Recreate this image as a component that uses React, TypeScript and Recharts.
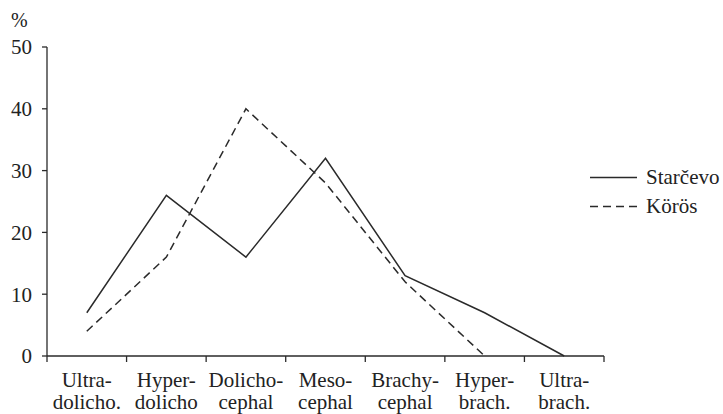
import React from "react";
import { LineChart, Line, XAxis, YAxis, Legend } from "recharts";

// category labels (two lines each)
const categoryTop = ["Ultra-", "Hyper-", "Dolicho-", "Meso-", "Brachy-", "Hyper-", "Ultra-"];
const categoryBottom = ["dolicho.", "dolicho", "cephal", "cephal", "cephal", "brach.", "brach."];

// percentages per group
const starcevo = [7, 26, 16, 32, 13, 7, 0];
const koros: (number | null)[] = [4, 16, 40, 28, 12, 0, null];

const seriesNames = ["Starčevo", "Körös"];
const yTicks = [0, 10, 20, 30, 40, 50];

const data = categoryTop.map((top, i) => ({
  name: `${top} ${categoryBottom[i]}`,
  starcevo: starcevo[i],
  koros: koros[i],
}));

const FONT = "Liberation Serif";
const INK = "#2a2a2a";

const CategoryTick = (props: any) => {
  const { x, y, payload, index } = props;
  const [l1, l2] = String(payload.value).split(" ");
  const off = payload.offset ?? 0;
  return (
    <g>
      <line x1={x - off} x2={x - off} y1={y} y2={y + 6} stroke={INK} strokeWidth={1.3} />
      {index === categoryTop.length - 1 && (
        <line x1={x + off} x2={x + off} y1={y} y2={y + 6} stroke={INK} strokeWidth={1.3} />
      )}
      <text x={x} y={y} textAnchor="middle" fill="#222" fontSize={21} fontFamily={FONT}>
        <tspan x={x} dy={31}>{l1}</tspan>
        <tspan x={x} dy={22}>{l2}</tspan>
      </text>
    </g>
  );
};

const LegendContent = (props: any) => {
  const payload = [...(props.payload || [])].sort(
    (a: any, b: any) => seriesNames.indexOf(a.value) - seriesNames.indexOf(b.value)
  );
  return (
    <div style={{ fontFamily: FONT, fontSize: 21, color: "#222" }}>
      {payload.map((entry: any) => (
        <div key={entry.value} style={{ display: "flex", alignItems: "center", height: 29 }}>
          <svg width={52} height={29}>
            <line
              x1={2}
              x2={49}
              y1={14.5}
              y2={14.5}
              stroke={INK}
              strokeWidth={1.5}
              strokeDasharray={entry.payload?.strokeDasharray}
            />
          </svg>
          <span style={{ marginLeft: 6, whiteSpace: "nowrap" }}>{entry.value}</span>
        </div>
      ))}
    </div>
  );
};

export default function App() {
  return (
    <div style={{ position: "relative", width: 723, height: 414, background: "#fff" }}>
      <style>{"body{margin:0}"}</style>
      <div
        style={{
          position: "absolute",
          left: 11,
          top: 10,
          fontFamily: FONT,
          fontSize: 20,
          lineHeight: "20px",
          color: "#222",
        }}
      >
        %
      </div>
      <LineChart
        width={723}
        height={414}
        data={data}
        margin={{ top: 47, right: 119, left: 0, bottom: 0 }}
      >
        <XAxis
          dataKey="name"
          scale="band"
          height={58}
          interval={0}
          tickLine={false}
          tickSize={0}
          tickMargin={0}
          stroke={INK}
          strokeWidth={1.3}
          tick={<CategoryTick />}
        />
        <YAxis
          domain={[0, 50]}
          ticks={yTicks}
          width={47}
          tickSize={5}
          tickMargin={10}
          stroke={INK}
          strokeWidth={1.3}
          tick={{ fill: "#222", fontSize: 21, fontFamily: FONT }}
        />
        <Legend
          layout="vertical"
          align="center"
          verticalAlign="middle"
          content={<LegendContent />}
          wrapperStyle={{ left: 588, top: 163, width: 135 }}
        />
        <Line
          dataKey="starcevo"
          name="Starčevo"
          stroke={INK}
          strokeWidth={1.5}
          dot={false}
          isAnimationActive={false}
        />
        <Line
          dataKey="koros"
          name="Körös"
          stroke={INK}
          strokeWidth={1.5}
          strokeDasharray="8 5"
          dot={false}
          isAnimationActive={false}
        />
      </LineChart>
    </div>
  );
}
